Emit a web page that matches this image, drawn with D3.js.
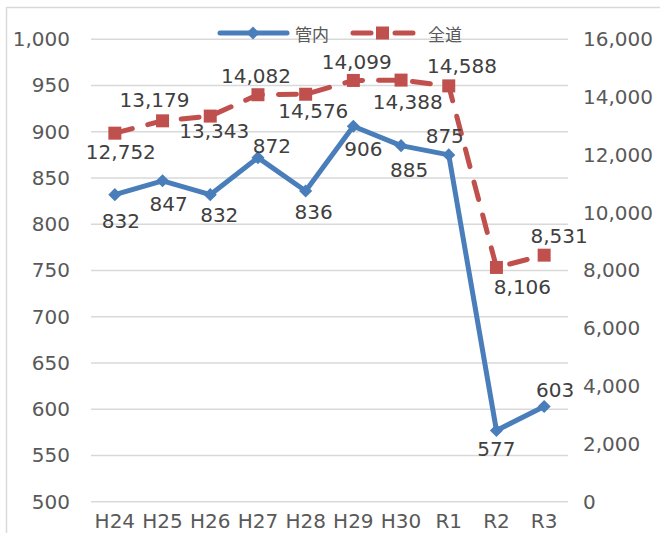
<!DOCTYPE html>
<html>
<head>
<meta charset="utf-8">
<script src="https://cdn.jsdelivr.net/npm/d3@7"></script>
<style>
  body { margin: 0; background: #fff; }
  text { font-family: "DejaVu Sans", "Noto Sans CJK JP", sans-serif; }
</style>
</head>
<body>
<svg id="chart" width="660" height="533"></svg>
<script>
const categories = ["H24", "H25", "H26", "H27", "H28", "H29", "H30", "R1", "R2", "R3"];
const kannai = [832, 847, 832, 872, 836, 906, 885, 875, 577, 603];
const zendo = [12752, 13179, 13343, 14082, 14099, 14576, 14588, 14388, 8106, 8531];
const leftTicks = [500, 550, 600, 650, 700, 750, 800, 850, 900, 950, 1000];
const rightTicks = [0, 2000, 4000, 6000, 8000, 10000, 12000, 14000, 16000];

// label placement, offsets from the point (some labels were dragged next to a neighbour)
const kannaiLabelOffset = [[6, 26], [6, 23], [9, 20], [14, -12], [8, 21], [10, 23], [8, 24], [-4, -19], [0, 19], [11, -16]];
const zendoLabelOffset = [[6, 19], [-8, -21], [4, 15], [-2, -19], [51, -32], [-40, 31], [61, -14], [-41, 16], [26, 20], [15, -19]];

const blue = "#4a7ebb";
const red = "#c0504d";

const svg = d3.select("#chart");
const fmt = d3.format(",");

// outer chart border
svg.append("rect")
    .attr("x", 6.5).attr("y", 7.5)
    .attr("width", 700).attr("height", 600)
    .attr("fill", "none").attr("stroke", "#d9d9d9").attr("stroke-width", 1.5);

const x = d3.scaleBand().domain(categories).range([91, 568]);
const y1 = d3.scaleLinear().domain([500, 1000]).range([501.7, 39.3]);
const y2 = d3.scaleLinear().domain([0, 16000]).range([501.7, 39.3]);
const cx = d => x(d) + x.bandwidth() / 2;

// gridlines
svg.append("g").selectAll("line")
    .data(leftTicks)
    .enter().append("line")
    .attr("x1", 91).attr("x2", 568)
    .attr("y1", d => y1(d)).attr("y2", d => y1(d))
    .attr("stroke", "#d9d9d9").attr("stroke-width", 1.5);

// axes
const tickStyle = g => {
    g.select(".domain").remove();
    g.selectAll(".tick line").remove();
    g.selectAll("text")
        .attr("fill", "#595959")
        .style("font-size", "20px");
};

svg.append("g")
    .attr("transform", "translate(91,0)")
    .call(d3.axisLeft(y1).tickValues(leftTicks).tickFormat(fmt).tickPadding(15))
    .call(tickStyle);

svg.append("g")
    .attr("transform", "translate(568,0)")
    .call(d3.axisRight(y2).tickValues(rightTicks).tickFormat(fmt).tickPadding(9))
    .call(tickStyle);

svg.append("g")
    .attr("transform", "translate(0,501.7)")
    .call(d3.axisBottom(x))
    .call(tickStyle)
    .selectAll("text").attr("y", 26).attr("dy", 0);

// 全道 line (right axis)
const line2 = d3.line().x((d, i) => cx(categories[i])).y(d => y2(d));
svg.append("path")
    .datum(zendo)
    .attr("d", line2)
    .attr("fill", "none")
    .attr("stroke", red).attr("stroke-width", 5)
    .attr("stroke-dasharray", "18,16")
    .attr("stroke-linecap", "round");

svg.append("g").selectAll("rect")
    .data(zendo)
    .enter().append("rect")
    .attr("x", (d, i) => cx(categories[i]) - 6.5)
    .attr("y", d => y2(d) - 6.5)
    .attr("width", 13).attr("height", 13)
    .attr("fill", red);

// 管内 line (left axis)
const line1 = d3.line().x((d, i) => cx(categories[i])).y(d => y1(d));
svg.append("path")
    .datum(kannai)
    .attr("d", line1)
    .attr("fill", "none")
    .attr("stroke", blue).attr("stroke-width", 5)
    .attr("stroke-linejoin", "round");

const diamond = d3.symbol().type(d3.symbolDiamond2).size(110);
svg.append("g").selectAll("path")
    .data(kannai)
    .enter().append("path")
    .attr("d", diamond)
    .attr("transform", (d, i) => `translate(${cx(categories[i])},${y1(d)})`)
    .attr("fill", blue);

// data labels
const labelStyle = sel => sel
    .attr("text-anchor", "middle")
    .attr("dominant-baseline", "central")
    .attr("fill", "#404040")
    .style("font-size", "20px");

svg.append("g").selectAll("text")
    .data(zendo)
    .enter().append("text")
    .attr("x", (d, i) => cx(categories[i]) + zendoLabelOffset[i][0])
    .attr("y", (d, i) => y2(d) + zendoLabelOffset[i][1])
    .text(d => fmt(d))
    .call(labelStyle);

svg.append("g").selectAll("text")
    .data(kannai)
    .enter().append("text")
    .attr("x", (d, i) => cx(categories[i]) + kannaiLabelOffset[i][0])
    .attr("y", (d, i) => y1(d) + kannaiLabelOffset[i][1])
    .text(d => fmt(d))
    .call(labelStyle);

// legend
const legend = svg.append("g");
legend.append("line")
    .attr("x1", 220).attr("x2", 287).attr("y1", 33).attr("y2", 33)
    .attr("stroke", blue).attr("stroke-width", 5).attr("stroke-linecap", "round");
legend.append("path")
    .attr("d", diamond)
    .attr("transform", "translate(253,33)")
    .attr("fill", blue);
legend.append("text")
    .attr("x", 295).attr("y", 33)
    .attr("dominant-baseline", "central")
    .attr("fill", "#595959")
    .style("font-size", "17px")
    .style("font-family", "'Noto Sans CJK JP', sans-serif")
    .text("管内");

legend.append("line")
    .attr("x1", 353).attr("x2", 413).attr("y1", 33).attr("y2", 33)
    .attr("stroke", red).attr("stroke-width", 5)
    .attr("stroke-dasharray", "18,24").attr("stroke-linecap", "round");
legend.append("rect")
    .attr("x", 376).attr("y", 26.5).attr("width", 13).attr("height", 13)
    .attr("fill", red);
legend.append("text")
    .attr("x", 428).attr("y", 33)
    .attr("dominant-baseline", "central")
    .attr("fill", "#595959")
    .style("font-size", "17px")
    .style("font-family", "'Noto Sans CJK JP', sans-serif")
    .text("全道");
</script>
</body>
</html>
